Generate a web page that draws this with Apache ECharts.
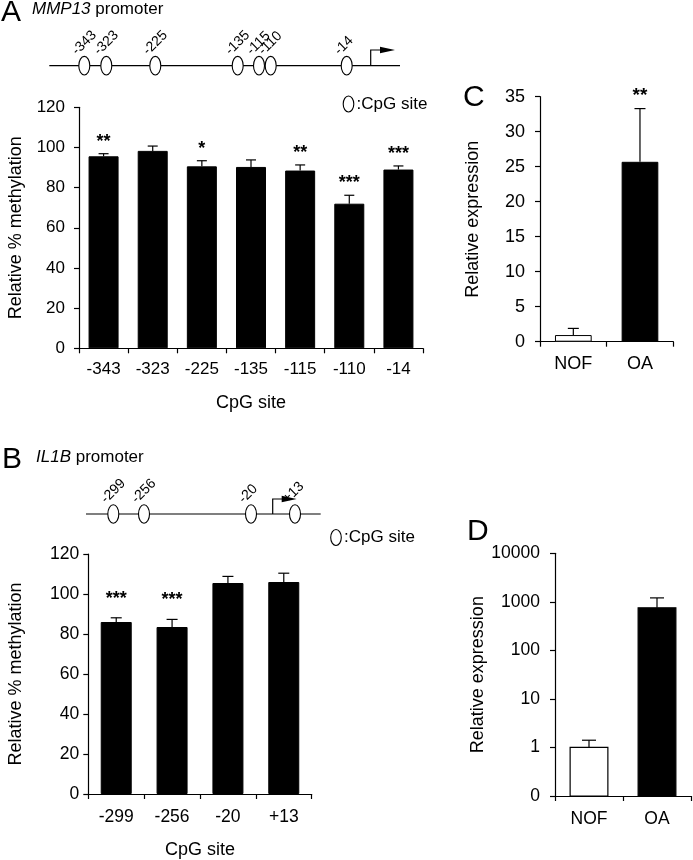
<!DOCTYPE html>
<html><head><meta charset="utf-8">
<script src="https://cdn.jsdelivr.net/npm/echarts@6/dist/echarts.min.js"></script>
<style>html,body{margin:0;padding:0;background:#fff}#c{width:693px;height:860px}</style>
</head><body><div id="c"></div>
<script>
// ---- data ----
var mmpSites = ['-343', '-323', '-225', '-135', '-115', '-110', '-14'];
var mmpMeth = [95.6, 98.3, 90.6, 90.3, 88.5, 72.0, 89.0];
var mmpMethErr = [1.3, 2.4, 2.8, 3.5, 2.8, 4.2, 1.8];
var mmpMethSig = ['**', '', '*', '', '**', '***', '***'];

var il1bSites = ['-299', '-256', '-20', '+13'];
var il1bMeth = [86.0, 83.5, 105.5, 106.0];
var il1bMethErr = [2.1, 3.8, 3.3, 4.4];
var il1bMethSig = ['***', '***', '', ''];

var groups = ['NOF', 'OA'];
var mmpExpr = [0.95, 25.7];
var mmpExprErr = [0.95, 7.6];
var mmpExprSig = ['', '**'];

var il1bExpr = [1.0, 753];
var il1bExprErr = [0.41, 453];

var methTicks = [0, 20, 40, 60, 80, 100, 120];
var exprTicksC = [0, 5, 10, 15, 20, 25, 30, 35];
var exprTicksD = [0.1, 1, 10, 100, 1000, 10000];

// ---- layout / style ----
var FF = '"Liberation Sans", Arial, Helvetica, sans-serif';
var BLACK = '#000';

function catAxis(gi, cats, fs, margin, name, nameGap) {
  return {
    type: 'category', gridIndex: gi, data: cats,
    axisLine: {lineStyle: {color: BLACK, width: 1.2}},
    axisTick: {show: true, length: 5, lineStyle: {color: BLACK, width: 1.2}},
    axisLabel: {color: BLACK, fontSize: fs, fontFamily: FF, margin: margin},
    name: name || '', nameLocation: 'middle', nameGap: nameGap || 0,
    nameTextStyle: {color: BLACK, fontSize: 18, fontFamily: FF},
    splitLine: {show: false}
  };
}
function valAxis(gi, ticks, fs, margin, name, nameGap) {
  return {
    type: 'value', gridIndex: gi, min: ticks[0], max: ticks[ticks.length - 1],
    interval: ticks[1] - ticks[0],
    axisLine: {show: true, lineStyle: {color: BLACK, width: 1.2}},
    axisTick: {show: true, length: 5, lineStyle: {color: BLACK, width: 1.2}},
    axisLabel: {color: BLACK, fontSize: fs, fontFamily: FF, margin: margin},
    name: name, nameLocation: 'middle', nameGap: nameGap,
    nameTextStyle: {color: BLACK, fontSize: 18, fontFamily: FF},
    splitLine: {show: false}
  };
}

function errSeries(gi, vals, errs, sigs, cap, gap, fs) {
  return {
    type: 'custom', xAxisIndex: gi, yAxisIndex: gi, z: 5, silent: true,
    data: vals.map(function (v, i) { return [i, v, v + errs[i]]; }),
    encode: {x: 0, y: [1, 2]},
    renderItem: function (params, api) {
      var i = api.value(0);
      var p0 = api.coord([i, api.value(1)]);
      var p1 = api.coord([i, api.value(2)]);
      var st = {stroke: BLACK, lineWidth: 1.2};
      var ch = [
        {type: 'line', shape: {x1: p0[0], y1: p0[1], x2: p1[0], y2: p1[1]}, style: st},
        {type: 'line', shape: {x1: p1[0] - cap / 2, y1: p1[1], x2: p1[0] + cap / 2, y2: p1[1]}, style: st}
      ];
      var s = sigs ? sigs[params.dataIndex] : '';
      if (s) {
        ch.push({type: 'text', x: p1[0], y: p1[1] - gap,
          style: {text: s, align: 'center', verticalAlign: 'bottom', font: 'bold ' + fs + 'px ' + FF, fill: BLACK}});
      }
      return {type: 'group', children: ch};
    }
  };
}

function barSeries(gi, vals, width, colorFn) {
  return {
    type: 'bar', xAxisIndex: gi, yAxisIndex: gi, data: vals, barWidth: width,
    itemStyle: {color: colorFn || BLACK, borderColor: BLACK, borderWidth: 1},
    silent: true
  };
}
var nofOa = function (p) { return p.dataIndex === 0 ? '#fff' : BLACK; };

// D: log-axis bars, drawn from the axis minimum
var dMin = exprTicksD[0];
var dBars = {
  type: 'custom', xAxisIndex: 3, yAxisIndex: 3, z: 3, silent: true,
  data: il1bExpr.map(function (v, i) { return [i, v]; }),
  encode: {x: 0, y: 1},
  renderItem: function (params, api) {
    var i = api.value(0);
    var top = api.coord([i, api.value(1)]);
    var base = api.coord([i, dMin]);
    var w = api.size([1, 1])[0] * 0.555;
    return {type: 'rect', shape: {x: top[0] - w / 2, y: top[1], width: w, height: base[1] - top[1]},
      style: {fill: params.dataIndex === 0 ? '#fff' : BLACK, stroke: BLACK, lineWidth: 1.2}};
  }
};

// ---- promoter diagrams (schematic) ----
var mmpDiagX = [84.3, 106.3, 155.3, 237.7, 259, 270.7, 346.7];
var il1bDiagX = [113.3, 144, 251, 295];

function diagram(xs, labels, lineX0, lineX1, y, arrowX, arrowTopY, arrowEnd) {
  var els = [];
  var st = {stroke: BLACK, lineWidth: 1.2};
  els.push({type: 'line', shape: {x1: lineX0, y1: y, x2: lineX1, y2: y}, style: st, z: 1});
  els.push({type: 'polyline', shape: {points: [[arrowX, y], [arrowX, arrowTopY], [arrowEnd - 14, arrowTopY]]}, style: {stroke: BLACK, lineWidth: 1.2, fill: null}, z: 1});
  els.push({type: 'polygon', shape: {points: [[arrowEnd - 15, arrowTopY - 3.3], [arrowEnd, arrowTopY], [arrowEnd - 15, arrowTopY + 3.3]]}, style: {fill: BLACK}, z: 2});
  xs.forEach(function (x, i) {
    els.push({type: 'ellipse', shape: {cx: x, cy: y, rx: 5.5, ry: 9.3}, style: {fill: '#fff', stroke: BLACK, lineWidth: 1.1}, z: 3});
    els.push({type: 'text', x: x - 5, y: y - 8, rotation: Math.PI / 4,
      style: {text: labels[i], font: '14px ' + FF, fill: BLACK, align: 'left', verticalAlign: 'bottom'}, z: 3});
  });
  return els;
}

function legend(x, y) {
  return [
    {type: 'ellipse', shape: {cx: x, cy: y, rx: 5.3, ry: 8}, style: {fill: '#fff', stroke: BLACK, lineWidth: 1.1}},
    {type: 'text', x: x + 8, y: y, style: {text: ':CpG site', font: '17px ' + FF, fill: BLACK, align: 'left', verticalAlign: 'middle'}}
  ];
}
function letter(t, x, y) {
  return {type: 'text', x: x, y: y, style: {text: t, font: '30px ' + FF, fill: BLACK, align: 'left', verticalAlign: 'middle'}};
}
function promTitle(gene, x, y) {
  return {type: 'text', x: x, y: y, style: {text: '{i|' + gene + '} promoter', font: '17px ' + FF, fill: BLACK,
    align: 'left', verticalAlign: 'middle', rich: {i: {fontStyle: 'italic', fontSize: 17, fontFamily: FF}}}};
}

var graphics = []
  .concat(diagram(mmpDiagX, mmpSites, 49.3, 400, 65.7, 370.7, 50, 395))
  .concat(diagram(il1bDiagX, il1bSites, 86, 320.7, 514, 272.7, 499, 296.7))
  .concat(legend(348.5, 104))
  .concat(legend(336, 537.5))
  .concat([letter('A', 1, 12.5), letter('B', 2, 459.5), letter('C', 463, 98), letter('D', 467, 531.5),
    promTitle('MMP13', 32, 9.5), promTitle('IL1B', 36, 457.5)]);

var chart = echarts.init(document.getElementById('c'), null, {renderer: 'canvas'});
chart.setOption({
  backgroundColor: '#fff',
  animation: false,
  grid: [
    {left: 79, top: 107.3, width: 344, height: 241},
    {left: 540, top: 96.7, width: 133.3, height: 245},
    {left: 88.3, top: 554, width: 223.4, height: 242},
    {left: 555, top: 553.3, width: 136, height: 242.7}
  ],
  xAxis: [
    catAxis(0, mmpSites, 17, 13, 'CpG site', 46),
    catAxis(1, groups, 18, 13),
    catAxis(2, il1bSites, 17.5, 14, 'CpG site', 47),
    catAxis(3, groups, 17.5, 14)
  ],
  yAxis: [
    valAxis(0, methTicks, 17, 14, 'Relative % methylation', 54),
    valAxis(1, exprTicksC, 18, 15, 'Relative expression', 58),
    valAxis(2, methTicks, 17.5, 9, 'Relative % methylation', 63),
    {
      type: 'log', gridIndex: 3, min: exprTicksD[0], max: exprTicksD[exprTicksD.length - 1], logBase: 10,
      axisLine: {show: true, lineStyle: {color: BLACK, width: 1.2}},
      axisTick: {show: true, length: 5, lineStyle: {color: BLACK, width: 1.2}},
      axisLabel: {color: BLACK, fontSize: 17.5, fontFamily: FF, margin: 15,
        formatter: function (v) { return v < 1 ? '0' : String(Math.round(v)); }},
      name: 'Relative expression', nameLocation: 'middle', nameGap: 66,
      nameTextStyle: {color: BLACK, fontSize: 18, fontFamily: FF},
      splitLine: {show: false}
    }
  ],
  series: [
    barSeries(0, mmpMeth, 30),
    errSeries(0, mmpMeth, mmpMethErr, mmpMethSig, 10, 3, 18),
    barSeries(1, mmpExpr, 36.7, nofOa),
    errSeries(1, mmpExpr, mmpExprErr, mmpExprSig, 11, 3, 19),
    barSeries(2, il1bMeth, 31),
    errSeries(2, il1bMeth, il1bMethErr, il1bMethSig, 11, 10, 18),
    dBars,
    errSeries(3, il1bExpr, il1bExprErr, null, 14, 3, 17)
  ],
  graphic: graphics
});
</script></body></html>
